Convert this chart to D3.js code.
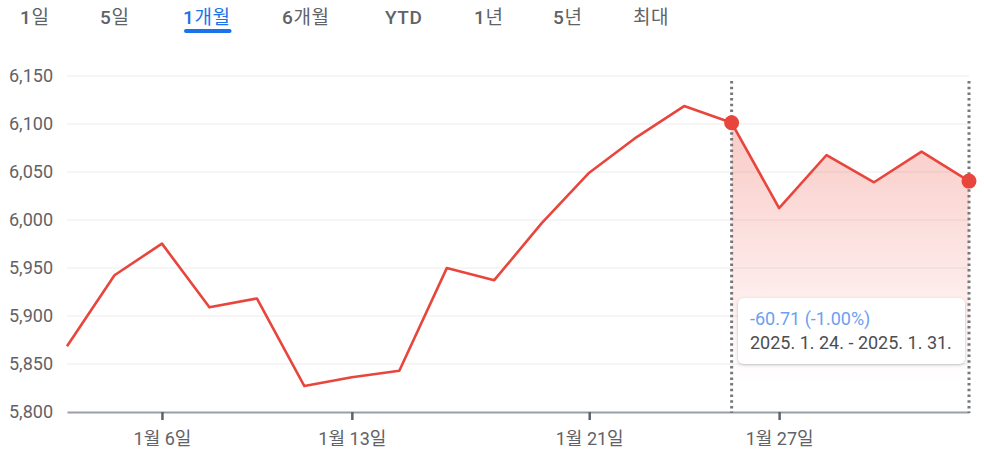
<!DOCTYPE html>
<html><head><meta charset="utf-8">
<script src="https://cdn.jsdelivr.net/npm/d3@7"></script>
<style>
html,body{margin:0;padding:0;background:#fff;}
svg{display:block;font-family:Roboto,"Noto Sans CJK KR",sans-serif;}
</style></head>
<body>
<svg id="c" width="984" height="453"></svg>
<script>
const tabs = ["1일","5일","1개월","6개월","YTD","1년","5년","최대"];
const tabX = [20,100,183,282,385,474,553,633];
const selectedTab = "1개월";
const dates = ["1/2","1/3","1/6","1/7","1/8","1/10","1/13","1/14","1/15","1/16","1/17","1/21","1/22","1/23","1/24","1/27","1/28","1/29","1/30","1/31"];
const values = [5868.55,5942.47,5975.38,5909.03,5918.25,5827.04,5836.22,5842.91,5949.91,5937.34,5996.66,6049.24,6086.37,6118.71,6101.24,6012.28,6067.70,6039.31,6071.17,6040.53];
const tickDates = ["1/6","1/13","1/21","1/27"];
const tickLabels = ["1월 6일","1월 13일","1월 21일","1월 27일"];
const yTicks = [5800,5850,5900,5950,6000,6050,6100,6150];
const rangeStart = "1/24", rangeEnd = "1/31";
const tipChange = "-60.71 (-1.00%)";
const tipDates = "2025. 1. 24. - 2025. 1. 31.";

const svg = d3.select("#c");
const x = d3.scalePoint().domain(dates).range([67, 969]);
const y = d3.scaleLinear().domain([5800, 6150]).range([412, 76]);

// tabs
const tg = svg.append("g");
tabs.forEach((t,i)=>{
  const sel = t===selectedTab;
  const tx = tg.append("text").attr("x", tabX[i]).attr("y", 24)
    .attr("font-size", 19).attr("letter-spacing", 0.6)
    .attr("fill", sel ? "#1a73e8" : "#5f6368");
  // split into runs: latin/digits medium, hangul regular
  const runs = t.match(/[\uAC00-\uD7A3]+|[^\uAC00-\uD7A3]+/g);
  runs.forEach(r=>{
    tx.append("tspan").attr("font-weight", /[\uAC00-\uD7A3]/.test(r) ? 400 : 500).text(r);
  });
  if(sel){
    const w = tx.node().getComputedTextLength();
    tg.append("rect").attr("x", tabX[i]+1).attr("y", 29).attr("width", w).attr("height", 4)
      .attr("rx", 2).attr("fill", "#1a73e8");
  }
});

// defs
const defs = svg.append("defs");
const grad = defs.append("linearGradient").attr("id","g1").attr("gradientUnits","userSpaceOnUse")
  .attr("x1",0).attr("x2",0).attr("y1",y(6120)).attr("y2",y(5830));
grad.append("stop").attr("offset",0).attr("stop-color","#ea4335").attr("stop-opacity",0.3);
grad.append("stop").attr("offset",1).attr("stop-color","#ea4335").attr("stop-opacity",0);
const flt = defs.append("filter").attr("id","sh").attr("x","-10%").attr("y","-20%").attr("width","120%").attr("height","150%");
flt.append("feDropShadow").attr("dx",0).attr("dy",1).attr("stdDeviation",1.5).attr("flood-color","#3c4043").attr("flood-opacity",0.3);

// grid
svg.append("g").selectAll("line").data(yTicks.slice(1)).join("line")
  .attr("x1",67).attr("x2",969).attr("y1",d=>y(d)).attr("y2",d=>y(d))
  .attr("stroke","#ececec").attr("stroke-width",1);

// y labels
const yAxis = svg.append("g").attr("transform","translate(67,0)")
  .call(d3.axisLeft(y).tickValues(yTicks).tickFormat(d3.format(",")).tickSize(0).tickPadding(14));
yAxis.select(".domain").remove();
yAxis.selectAll("text").attr("font-size",18).attr("fill","#5f6368").attr("font-family","Roboto,sans-serif");

// area fill for range
const i0 = dates.indexOf(rangeStart), i1 = dates.indexOf(rangeEnd);
const sub = dates.slice(i0, i1+1).map((d,k)=>({d, v: values[i0+k]}));
svg.append("path").datum(sub)
  .attr("d", d3.area().x(p=>x(p.d)).y0(y(5800)).y1(p=>y(p.v)))
  .attr("fill","url(#g1)");

// x axis
const xAxis = svg.append("g").attr("transform",`translate(0,${y(5800)})`)
  .call(d3.axisBottom(x).tickValues(tickDates).tickFormat((d,i)=>tickLabels[i]).tickSize(8).tickPadding(12).tickSizeOuter(0));
xAxis.select(".domain").attr("stroke","#9aa0a6").attr("stroke-width",2);
xAxis.selectAll(".tick line").attr("stroke","#5f6368").attr("stroke-width",2.5);
xAxis.selectAll("text").attr("font-size",18).attr("fill","#5f6368").attr("font-family",'Roboto,"Noto Sans CJK KR",sans-serif');

// dotted verticals
svg.append("g").selectAll("line").data([rangeStart, rangeEnd]).join("line")
  .attr("x1",d=>x(d)).attr("x2",d=>x(d)).attr("y1",81).attr("y2",413)
  .attr("stroke","#75797d").attr("stroke-width",3).attr("stroke-dasharray","2.5 3.2");

// line
svg.append("path").datum(values)
  .attr("d", d3.line().x((v,i)=>x(dates[i])).y(v=>y(v)))
  .attr("fill","none").attr("stroke","#e8453c").attr("stroke-width",2.6).attr("stroke-linejoin","round");

// markers
svg.append("g").selectAll("circle").data([i0,i1]).join("circle")
  .attr("cx",i=>x(dates[i])).attr("cy",i=>y(values[i])).attr("r",7.5).attr("fill","#e8453c");

// tooltip
const tip = svg.append("g");
tip.append("rect").attr("x",738).attr("y",298).attr("width",227).attr("height",66).attr("rx",6)
  .attr("fill","#fff").attr("filter","url(#sh)");
tip.append("text").attr("x",750).attr("y",325).attr("font-size",18).attr("fill","#6c9ff2").text(tipChange);
tip.append("text").attr("x",750).attr("y",349).attr("font-size",18).attr("fill","#4a4e52").text(tipDates);
</script>
</body></html>
